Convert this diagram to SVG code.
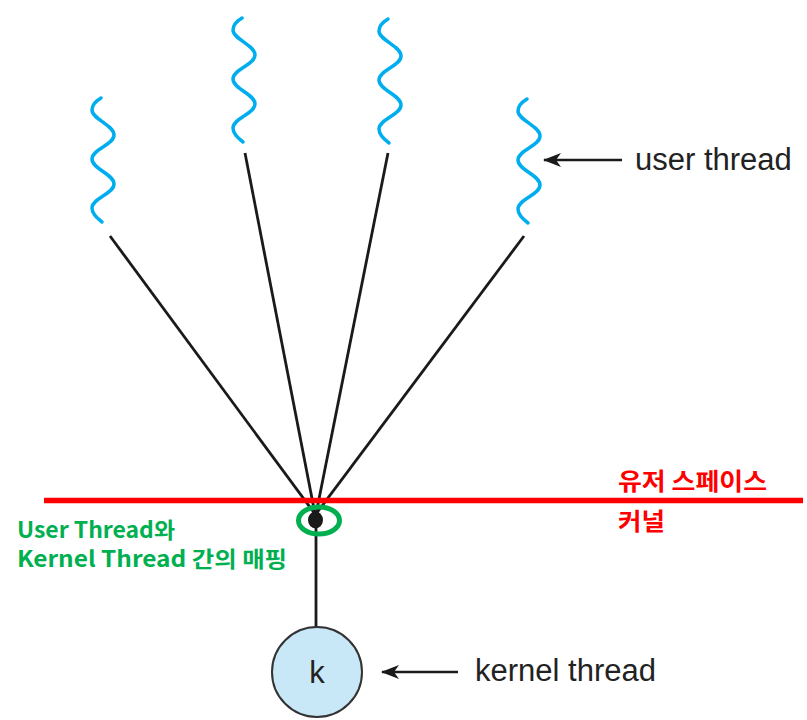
<svg xmlns="http://www.w3.org/2000/svg" xmlns:xlink="http://www.w3.org/1999/xlink" width="807" height="720" viewBox="0 0 807 720">
<style>
.wave{fill:none;stroke:#00aeef;stroke-width:3.5;stroke-linecap:round}
.conn{stroke:#1a1a1a;stroke-width:2.8;fill:none}
.arrow{stroke:#1a1a1a;stroke-width:2.5;fill:none}
.lbl{font-family:"Liberation Sans",Arial,sans-serif;font-size:31px;fill:#222}
.red{font-family:"Noto Sans CJK KR",sans-serif;font-weight:bold;font-size:24px;fill:#ff0000}
.green{font-family:"Noto Sans CJK KR",sans-serif;font-weight:bold;font-size:22px;fill:#00b050}
</style>
<defs>
<path id="wv" d="M0,0 C-5,3 -9,7 -9,12 C-9,21 13,27 13,37 C13,47 -9,51 -9,61 C-9,71 13,76 13,86 C13,96 -9,100 -9,110 C-9,116 -3,121 1,124"/>
<marker id="ah" markerWidth="18" markerHeight="14" refX="17" refY="7" orient="auto" markerUnits="userSpaceOnUse">
<path d="M18,7 L0,0 L5,7 L0,14 Z" fill="#1a1a1a"/>
</marker>
</defs>
<g id="user-thread-1"><use xlink:href="#wv" class="wave" transform="translate(101,98)"/></g>
<g id="user-thread-2"><use xlink:href="#wv" class="wave" transform="translate(242,18)"/></g>
<g id="user-thread-3"><use xlink:href="#wv" class="wave" transform="translate(388,19)"/></g>
<g id="user-thread-4"><use xlink:href="#wv" class="wave" transform="translate(527,99)"/></g>
<g id="connectors">
<line class="conn" x1="110" y1="236" x2="315" y2="514"/>
<line class="conn" x1="245" y1="153" x2="315" y2="514"/>
<line class="conn" x1="388" y1="153" x2="316" y2="514"/>
<line class="conn" x1="524" y1="236" x2="316" y2="514"/>
<line class="conn" x1="316" y1="520" x2="316" y2="628"/>
<line class="arrow" x1="622" y1="160" x2="544" y2="160" marker-end="url(#ah)"/>
<line class="arrow" x1="458" y1="672" x2="382" y2="672" marker-end="url(#ah)"/>
</g>
<g id="boundary">
<line x1="44" y1="500.5" x2="803" y2="500.5" stroke="#ff0000" stroke-width="5.5"/>
<text class="red" x="618" y="490" textLength="149" lengthAdjust="spacingAndGlyphs">유저 스페이스</text>
<text class="red" x="618" y="530" textLength="47" lengthAdjust="spacingAndGlyphs">커널</text>
</g>
<g id="mapping">
<ellipse cx="315.5" cy="520" rx="7.5" ry="8.5" fill="#1a1a1a"/>
<ellipse cx="319" cy="520.5" rx="20.5" ry="13.5" fill="none" stroke="#00b050" stroke-width="5"/>
<text class="green" x="17" y="538" textLength="158" lengthAdjust="spacingAndGlyphs">User Thread와</text>
<text class="green" x="17" y="567" textLength="270" lengthAdjust="spacingAndGlyphs">Kernel Thread 간의 매핑</text>
</g>
<g id="kernel-thread">
<circle cx="317" cy="672" r="45" fill="#c8e8f8" stroke="#333" stroke-width="2"/>
<text class="lbl" x="317" y="683" text-anchor="middle">k</text>
</g>
<g id="labels">
<text class="lbl" x="635" y="170">user thread</text>
<text class="lbl" x="475" y="681">kernel thread</text>
</g>
</svg>
